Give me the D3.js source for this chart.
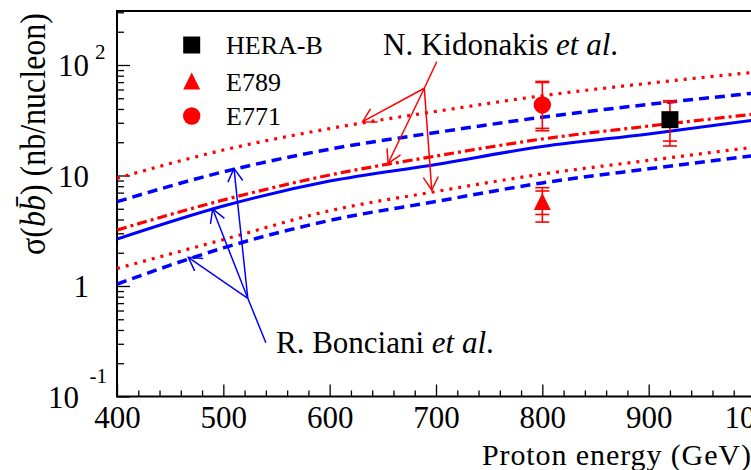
<!DOCTYPE html>
<html>
<head>
<meta charset="utf-8">
<script src="https://cdn.jsdelivr.net/npm/d3@7/dist/d3.min.js"></script>
<style>
  html, body { margin: 0; padding: 0; background: #fff; }
  svg { display: block; }
  text { font-family: "Liberation Serif", "Times New Roman", serif; fill: #000; }
</style>
</head>
<body>
<svg id="chart" width="751" height="470"></svg>
<script>
// Proton beam energy (GeV) at which the theory bands are tabulated
const energy = [400, 500, 600, 700, 800, 900, 1000];

// N. Kidonakis et al. — upper / central / lower (nb/nucleon)
const kidUpper   = [9.44, 17.0, 26.6, 38.0, 52.7, 68.4, 86.1];
const kidCentral = [3.21, 6.0, 10.1, 15.0, 21.4, 28.0, 36.0];
const kidLower   = [1.44, 2.63, 4.80, 7.16, 10.3, 13.7, 18.1];

// R. Bonciani et al. — upper / central / lower (nb/nucleon)
const bonUpper   = [5.79, 10.8, 17.3, 24.5, 33.7, 44.0, 55.8];
const bonCentral = [2.66, 5.30, 8.9, 12.6, 18.3, 23.8, 31.8];
const bonLower   = [1.04, 2.21, 3.92, 5.82, 8.57, 11.5, 15.2];

// Measurements
const expNames   = ["HERA-B", "E789", "E771"];
const expEnergy  = [920, 800, 800];
const expSigma   = [32.0, 5.7, 43.5];
const expStatLo  = [20.5, 4.44, 26.7];
const expStatHi  = [46.0, 7.24, 69.5];
const expTotLo   = [18.5, 3.79, 25.4];
const expTotHi   = [47.5, 7.76, 71.0];

// Axis ticks
const xMajorTicks = [400, 500, 600, 700, 800, 900, 1000];
const yMajorTicks = [0.1, 1, 10, 100];
const yTickBase   = ["10", "1", "10", "10"];
const yTickExp    = ["-1", "", "", "2"];

// Annotation arrows (energy, sigma)
const kidArrowStem = [[700.7, 107], [689, 61.6]];
const kidArrowTips = [[631, 30.7], [655, 12.9], [696, 7.39]];
const bonArrowStem = [[540, 0.307], [523, 0.774]];
const bonArrowTips = [[467, 1.82], [490, 4.98], [510, 11.6]];

const RED = "#ff0000", BLUE = "#0000ff";

const svg = d3.select("#chart");
const pLeft = 117, pRight = 755, pTop = 11, pBottom = 396.5;

const x = d3.scaleLinear().domain([400, 1000]).range([pLeft, pRight]);
const y = d3.scaleLog().domain([0.1, Math.pow(10, 2 + 54 / 110.5)]).range([pBottom, pTop]);

svg.append("rect").attr("width", 751).attr("height", 470).attr("fill", "#fff");

svg.append("defs").append("clipPath").attr("id", "plotClip")
  .append("rect").attr("x", pLeft).attr("y", pTop).attr("width", 760 - pLeft).attr("height", pBottom - pTop);

// ---- axes: ticks pointing into the frame ----
const xMinor = d3.range(400, 1001, 20).filter(v => v % 100 !== 0);
svg.append("g").attr("transform", `translate(0,${pBottom})`)
  .call(d3.axisBottom(x).tickValues(xMinor).tickSize(-6).tickSizeOuter(0).tickFormat(""))
  .call(g => g.select(".domain").remove())
  .call(g => g.selectAll("line").attr("stroke", "#000").attr("stroke-width", 1.3));

svg.append("g").attr("transform", `translate(0,${pBottom})`)
  .call(d3.axisBottom(x).tickValues(xMajorTicks).tickSize(-12).tickSizeOuter(0).tickPadding(9).tickFormat(d3.format("d")))
  .call(g => g.select(".domain").remove())
  .call(g => g.selectAll("line").attr("stroke", "#000").attr("stroke-width", 1.3))
  .call(g => g.selectAll("text").attr("font-size", 31).attr("fill", "#000")
    .style("font-family", '"Liberation Serif", "Times New Roman", serif'));

const yMinor = [];
[0.1, 1, 10, 100].forEach(d => { for (let k = 2; k <= 9; k++) { const v = d * k; if (v <= y.domain()[1]) yMinor.push(v); } });
svg.append("g").attr("transform", `translate(${pLeft},0)`)
  .call(d3.axisLeft(y).tickValues(yMinor).tickSize(-7).tickSizeOuter(0).tickFormat(""))
  .call(g => g.select(".domain").remove())
  .call(g => g.selectAll("line").attr("stroke", "#000").attr("stroke-width", 1.3));
svg.append("g").attr("transform", `translate(${pLeft},0)`)
  .call(d3.axisLeft(y).tickValues(yMajorTicks).tickSize(-13).tickSizeOuter(0).tickFormat(""))
  .call(g => g.select(".domain").remove())
  .call(g => g.selectAll("line").attr("stroke", "#000").attr("stroke-width", 1.3));

// y tick labels, powers of ten
yMajorTicks.forEach((v, i) => {
  const py = y(v);
  const g = svg.append("g");
  if (yTickExp[i] === "-1") {
    g.append("text").attr("x", 107).attr("y", py - 14).attr("text-anchor", "end").attr("font-size", 21).text(yTickExp[i]);
    g.append("text").attr("x", 79).attr("y", py + 11).attr("text-anchor", "end").attr("font-size", 31).text(yTickBase[i]);
  } else if (yTickExp[i]) {
    g.append("text").attr("x", 89).attr("y", py + 11).attr("text-anchor", "end").attr("font-size", 31).text(yTickBase[i]);
    g.append("text").attr("x", 95).attr("y", py - 6).attr("font-size", 21).text(yTickExp[i]);
  } else {
    g.append("text").attr("x", 89).attr("y", py + 11).attr("text-anchor", "end").attr("font-size", 31).text(yTickBase[i]);
  }
});

// frame
svg.append("path")
  .attr("d", `M760,${pTop}H${pLeft}V${pBottom}H760`)
  .attr("fill", "none").attr("stroke", "#000").attr("stroke-width", 2);

// axis titles
svg.append("text").attr("x", 482).attr("y", 465).attr("font-size", 30)
  .attr("letter-spacing", 0.9).text("Proton energy (GeV)");

const yt = svg.append("text").attr("transform", "translate(45,134) scale(1.12,1) rotate(-90)")
  .attr("text-anchor", "middle").attr("font-size", 32);
yt.append("tspan").text("σ(");
yt.append("tspan").attr("font-style", "italic").text("b");
yt.append("tspan").attr("font-style", "italic").text("b\u0304");
yt.append("tspan").text(") (nb/nucleon)");

// ---- theory curves ----
const plot = svg.append("g").attr("clip-path", "url(#plotClip)");
const line = d3.line().x((d, i) => x(energy[i])).y(d => y(d)).curve(d3.curveMonotoneX);

const curves = [
  { v: kidUpper,   c: RED,  w: 3.2, dash: "3,6" },
  { v: kidLower,   c: RED,  w: 3.2, dash: "3,6" },
  { v: bonUpper,   c: BLUE, w: 3.5, dash: "10,6" },
  { v: bonLower,   c: BLUE, w: 3.5, dash: "10,6" },
  { v: kidCentral, c: RED,  w: 3.2, dash: "10,4,3,4" },
  { v: bonCentral, c: BLUE, w: 3,   dash: null }
];
curves.forEach(cv => {
  const p = plot.append("path").attr("d", line(cv.v))
    .attr("fill", "none").attr("stroke", cv.c).attr("stroke-width", cv.w);
  if (cv.dash) p.attr("stroke-dasharray", cv.dash);
});

// ---- annotation arrows ----
function arrows(stem, tips, color) {
  const g = svg.append("g").attr("stroke", color).attr("stroke-width", 1.5).attr("fill", "none");
  const p0 = [x(stem[0][0]), y(stem[0][1])];
  const b = [x(stem[1][0]), y(stem[1][1])];
  g.append("line").attr("x1", p0[0]).attr("y1", p0[1]).attr("x2", b[0]).attr("y2", b[1]);
  tips.forEach(t => {
    const tp = [x(t[0]), y(t[1])];
    g.append("line").attr("x1", b[0]).attr("y1", b[1]).attr("x2", tp[0]).attr("y2", tp[1]);
    const ang = Math.atan2(b[1] - tp[1], b[0] - tp[0]);
    const L = 15, a = Math.PI / 6;
    g.append("path").attr("d",
      `M${tp[0] + L * Math.cos(ang + a)},${tp[1] + L * Math.sin(ang + a)}L${tp[0]},${tp[1]}L${tp[0] + L * Math.cos(ang - a)},${tp[1] + L * Math.sin(ang - a)}`);
  });
}
arrows(kidArrowStem, kidArrowTips, RED);
arrows(bonArrowStem, bonArrowTips, BLUE);

const kt = svg.append("text").attr("x", 383).attr("y", 55).attr("font-size", 31);
kt.append("tspan").text("N. Kidonakis ");
kt.append("tspan").attr("font-style", "italic").text("et al");
kt.append("tspan").text(".");

const bt = svg.append("text").attr("x", 276).attr("y", 353).attr("font-size", 31);
bt.append("tspan").text("R. Bonciani ");
bt.append("tspan").attr("font-style", "italic").text("et al");
bt.append("tspan").text(".");

// ---- measurements ----
function marker(g, kind, cx, cy, fill) {
  if (kind === 0) {
    g.append("rect").attr("x", cx - 8.5).attr("y", cy - 8.5).attr("width", 17).attr("height", 17).attr("fill", fill);
  } else if (kind === 1) {
    g.append("path").attr("d", `M${cx},${cy - 9.5}L${cx + 8.5},${cy + 7.5}L${cx - 8.5},${cy + 7.5}Z`).attr("fill", fill);
  } else {
    g.append("circle").attr("cx", cx).attr("cy", cy).attr("r", 8.7).attr("fill", fill);
  }
}
const markerFill = ["#000", RED, RED];

const dg = svg.append("g");
expNames.forEach((n, i) => {
  const cx = x(expEnergy[i]);
  const eg = dg.append("g").attr("stroke", RED).attr("stroke-width", 1.6);
  eg.append("line").attr("x1", cx).attr("x2", cx).attr("y1", y(expTotHi[i])).attr("y2", y(expTotLo[i]));
  [expTotHi[i], expTotLo[i], expStatHi[i], expStatLo[i]].forEach(v => {
    eg.append("line").attr("x1", cx - 7).attr("x2", cx + 7).attr("y1", y(v)).attr("y2", y(v));
  });
  marker(dg, i, cx, y(expSigma[i]), markerFill[i]);
});

// legend
const legendY = [45, 82, 116];
expNames.forEach((n, i) => {
  marker(svg, i, 191.7, legendY[i], markerFill[i]);
  svg.append("text").attr("x", 226).attr("y", legendY[i] + 8.5).attr("font-size", 26).text(n);
});
</script>
</body>
</html>
